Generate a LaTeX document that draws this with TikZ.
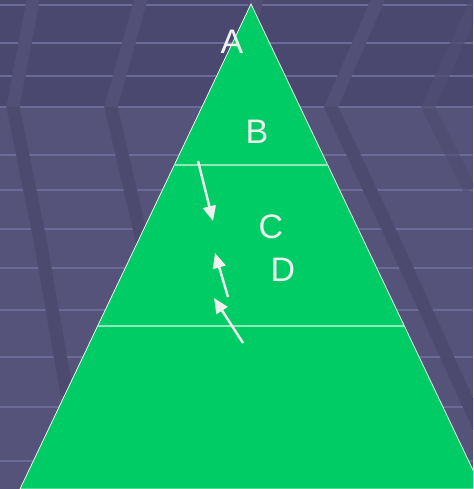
\documentclass[tikz,border=0pt]{standalone}
\usepackage{fontspec}
\setmainfont{Liberation Sans}
\usetikzlibrary{arrows.meta, positioning, calc}
\definecolor{SlateBg}{RGB}{85, 83, 122}
\definecolor{SlateTop}{RGB}{74, 72, 110}
\definecolor{SlateLine}{RGB}{108, 106, 152}
\definecolor{BandLo}{RGB}{76, 74, 110}
\definecolor{BandHi}{RGB}{82, 80, 118}
\definecolor{PyrGreen}{RGB}{0, 204, 102}
\definecolor{SoftWhite}{RGB}{238, 240, 238}

\begin{document}
\begin{tikzpicture}[
        x=1pt, y=-1pt,
        stripe/.style={draw=SlateLine, line width=2pt},
        band/.style={line width=13pt, line join=miter},
        lbl/.style={text=SoftWhite, font=\fontsize{34}{38}\selectfont, inner sep=0pt},
        divider/.style={draw=PyrGreen!45!white, line width=1.5pt},
        flow/.style={draw=SoftWhite, line width=2.5pt, -{Triangle[length=15pt, width=13pt]}}
    ]
    \useasboundingbox (0,0) rectangle (473,489);
    \clip (0,0) rectangle (473,489);

    % slate backdrop
    \fill[SlateBg] (0,0) rectangle (473,489);
    \fill[SlateTop] (0,0) rectangle (473,107);
    \foreach \y in {5,43,76,107,155,190,229,268,310,357,407,461}
        \draw[stripe] (0,\y) -- (473,\y);
    \foreach \clr/\ymax in {BandLo/489, BandHi/107} {
        \begin{scope}
            \clip (0,0) rectangle (473,\ymax);
            \draw[band, \clr] (34,-5) -- (13,107) -- (41,245) -- (67,395);
            \draw[band, \clr] (142,-5) -- (111,107) -- (150,275);
            \draw[band, \clr] (258,-5) -- (228,107);
            \draw[band, \clr] (380,-5) -- (331,107) -- (396,245) -- (485,440);
            \draw[band, \clr, opacity=0.5] (486,-20) -- (428,107) -- (470,190);
        \end{scope}
    }

    % pyramid
    \coordinate (apex) at (251,4);
    \coordinate (baseL) at (20,489);
    \coordinate (baseR) at (482,489);
    \fill[PyrGreen, draw=SoftWhite, line width=0.8pt] (apex) -- (baseL) -- (baseR) -- cycle;
    \draw[divider] ($(apex)!161/485!(baseL)$) -- ($(apex)!161/485!(baseR)$);
    \draw[divider] ($(apex)!322/485!(baseL)$) -- ($(apex)!322/485!(baseR)$);

    \node[lbl] (lblA) at (232,42) {A};
    \node[lbl] (lblB) at (257,132) {B};
    \node[lbl] (lblC) at (271,227) {C};
    \node[lbl] (lblD) at (283,270) {D};

    \coordinate (downS) at (198,161);
    \coordinate (downE) at (213,221);
    \coordinate (upS) at (228,297);
    \coordinate (upE) at (215,253);
    \coordinate (riseS) at (243,343);
    \coordinate (riseE) at (214,298);
    \draw[flow] (downS) -- (downE);
    \draw[flow] (upS) -- (upE);
    \draw[flow] (riseS) -- (riseE);
\end{tikzpicture}
\end{document}
